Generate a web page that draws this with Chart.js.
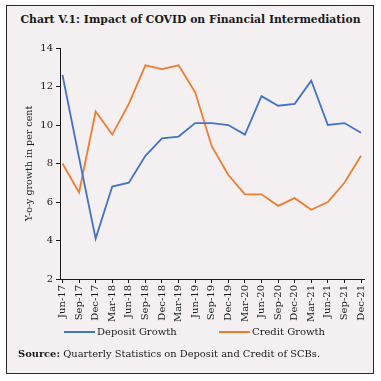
<!DOCTYPE html>
<html>
<head>
<meta charset="utf-8">
<script src="https://cdn.jsdelivr.net/npm/chart.js@4.4.1/dist/chart.umd.min.js"></script>
<style>
  html, body { margin: 0; padding: 0; background: #ffffff; width: 381px; height: 381px; overflow: hidden; }
  #frame { position: absolute; left: 6px; top: 5px; width: 366px; height: 367px; border: 1.5px solid #2a2a2a; background: #f4f0f1; }
  #title { position: absolute; left: 0; top: 13px; width: 381px; text-align: center; font: bold 10.8px "DejaVu Serif", serif; color: #1a1a1a; white-space: nowrap; }
  #legend { position: absolute; top: 324px; left: 0; width: 381px; height: 16px; font: 10px "DejaVu Serif", serif; color: #1a1a1a; }
  .item { position: absolute; top: 0; white-space: nowrap; }
  .swatch { position: absolute; top: 7px; width: 31px; height: 2px; }
  .lbl { position: absolute; top: 0; left: 33px; line-height: 16px; }
  #source { position: absolute; left: 18px; top: 348px; font: 9.9px "DejaVu Serif", serif; color: #1a1a1a; white-space: nowrap; }
  canvas { position: absolute; left: 0; top: 0; }
</style>
</head>
<body>
<div id="frame"></div>
<div id="title">Chart V.1: Impact of COVID on Financial Intermediation</div>
<canvas id="c" width="381" height="381"></canvas>
<div id="legend"></div>
<div id="source"><b>Source:</b> Quarterly Statistics on Deposit and Credit of SCBs.</div>
<script>
const categories = ["Jun-17","Sep-17","Dec-17","Mar-18","Jun-18","Sep-18","Dec-18","Mar-19","Jun-19","Sep-19","Dec-19","Mar-20","Jun-20","Sep-20","Dec-20","Mar-21","Jun-21","Sep-21","Dec-21"];
const depositGrowth = [12.6, 8.3, 4.1, 6.8, 7.0, 8.4, 9.3, 9.4, 10.1, 10.1, 10.0, 9.5, 11.5, 11.0, 11.1, 12.3, 10.0, 10.1, 9.6];
const creditGrowth = [8.0, 6.5, 10.7, 9.5, 11.1, 13.1, 12.9, 13.1, 11.7, 8.9, 7.4, 6.4, 6.4, 5.8, 6.2, 5.6, 6.0, 7.0, 8.4];
const yTicks = [2, 4, 6, 8, 10, 12, 14];
const seriesNames = ["Deposit Growth", "Credit Growth"];
const seriesColors = ["#4472c4", "#ed7d31"];

const toPoints = arr => arr.map((v, i) => ({ x: i, y: v }));
const datasets = [depositGrowth, creditGrowth].map((arr, k) => ({
  label: seriesNames[k],
  data: toPoints(arr),
  borderColor: seriesColors[k],
  backgroundColor: seriesColors[k],
  borderWidth: 1.8,
  pointRadius: 0,
  tension: 0,
  fill: false
}));

const tickFont = { family: "'DejaVu Serif', serif", size: 10 };

new Chart(document.getElementById('c'), {
  type: 'line',
  data: { datasets },
  options: {
    responsive: false,
    animation: false,
    layout: { padding: { top: 48, right: 17, bottom: 0, left: 24 } },
    plugins: { legend: { display: false }, tooltip: { enabled: false }, title: { display: false } },
    scales: {
      x: {
        type: 'linear',
        min: -0.15,
        max: categories.length - 1 + 0.18,
        afterFit: s => { s.height = 102; },
        border: { display: true, color: '#1a1a1a', width: 1 },
        grid: { drawOnChartArea: false, drawTicks: true, tickLength: 4, color: '#1a1a1a' },
        ticks: {
          stepSize: 1,
          includeBounds: false,
          autoSkip: false,
          maxRotation: 90,
          minRotation: 90,
          padding: 2,
          color: '#1a1a1a',
          font: tickFont,
          callback: v => (Number.isInteger(v) && categories[v]) ? categories[v] : ''
        }
      },
      y: {
        min: yTicks[0],
        max: yTicks[yTicks.length - 1],
        afterFit: s => { s.width = 36; },
        border: { display: true, color: '#1a1a1a', width: 1 },
        grid: { drawOnChartArea: false, drawTicks: true, tickLength: 4, color: '#1a1a1a' },
        ticks: { stepSize: 2, padding: 3, color: '#1a1a1a', font: tickFont },
        title: { display: true, text: 'Y-o-y growth in per cent', color: '#1a1a1a', font: { family: "'DejaVu Serif', serif", size: 9.5 }, padding: { top: 0, bottom: 2 } }
      }
    }
  }
});

const legend = document.getElementById('legend');
const legendX = [64, 219];
seriesNames.forEach((name, k) => {
  const item = document.createElement('div');
  item.className = 'item';
  item.style.left = legendX[k] + 'px';
  const sw = document.createElement('div');
  sw.className = 'swatch';
  sw.style.background = seriesColors[k];
  const lb = document.createElement('span');
  lb.className = 'lbl';
  lb.textContent = name;
  item.appendChild(sw);
  item.appendChild(lb);
  legend.appendChild(item);
});
</script>
</body>
</html>
